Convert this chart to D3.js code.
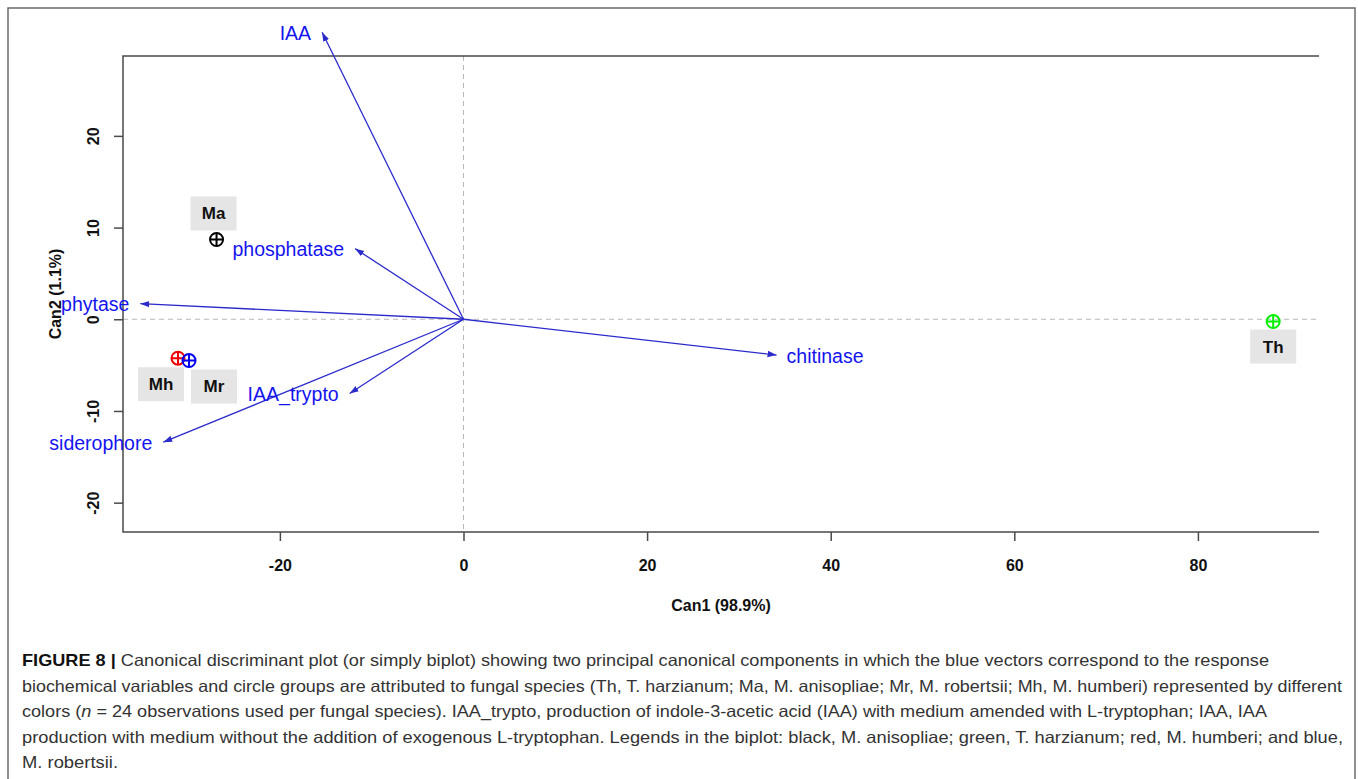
<!DOCTYPE html>
<html>
<head>
<meta charset="utf-8">
<script src="https://cdn.jsdelivr.net/npm/d3@7"></script>
<style>
  body { margin: 0; background: #fff; }
  svg { display: block; font-family: "Liberation Sans", Arial, sans-serif; }
</style>
</head>
<body>
<script>
// vectors (biochemical variables)
const varNames = ["IAA", "phosphatase", "phytase", "siderophore", "IAA_trypto", "chitinase"];
const varCan1 = [-15.4, -11.8, -35.2, -32.7, -12.4, 34.1];
const varCan2 = [31.3, 7.7, 1.7, -13.4, -8.1, -3.9];

// group centroids (fungal species)
const groupNames = ["Ma", "Mh", "Mr", "Th"];
const groupCan1 = [-26.9, -31.1, -29.9, 88.2];
const groupCan2 = [8.7, -4.25, -4.5, -0.25];
const groupColors = ["#000000", "#ee0000", "#0000ee", "#00ee00"];

const xTicks = [-20, 0, 20, 40, 60, 80];
const yTicks = [-20, -10, 0, 10, 20];

const xTitle = "Can1 (98.9%)";
const yTitle = "Can2 (1.1%)";

const captionLines = [
  "Canonical discriminant plot (or simply biplot) showing two principal canonical components in which the blue vectors correspond to the response",
  "biochemical variables and circle groups are attributed to fungal species (Th, T. harzianum; Ma, M. anisopliae; Mr, M. robertsii; Mh, M. humberi) represented by different",
  "colors (n = 24 observations used per fungal species). IAA_trypto, production of indole-3-acetic acid (IAA) with medium amended with L-tryptophan; IAA, IAA",
  "production with medium without the addition of exogenous L-tryptophan. Legends in the biplot: black, M. anisopliae; green, T. harzianum; red, M. humberi; and blue,",
  "M. robertsii."
];

const WIDTH = 1358;
const HEIGHT = 779;
const PLOT = { left: 123, right: 1319, top: 56, bottom: 532 };

// label box offsets from the point (px)
const boxOffset = { Ma: [-3, -26], Mh: [-17, 26], Mr: [25, 26], Th: [0, 25] };

const svg = d3.select("body").append("svg")
  .attr("width", WIDTH)
  .attr("height", HEIGHT);

// outer frame
svg.append("rect")
  .attr("x", 8).attr("y", 8)
  .attr("width", 1347).attr("height", 790)
  .attr("fill", "none")
  .attr("stroke", "#6a6a6a")
  .attr("stroke-width", 1.5);

const x = d3.scaleLinear().domain([-37.09, 93.19]).range([PLOT.left, PLOT.right]);
const y = d3.scaleLinear().domain([-23.2, 28.71]).range([PLOT.bottom, PLOT.top]);

// dashed zero lines
svg.append("line")
  .attr("x1", x(0)).attr("x2", x(0))
  .attr("y1", PLOT.top).attr("y2", PLOT.bottom)
  .attr("stroke", "#b8b8b8").attr("stroke-dasharray", "5,4");
svg.append("line")
  .attr("x1", PLOT.left).attr("x2", PLOT.right)
  .attr("y1", y(0)).attr("y2", y(0))
  .attr("stroke", "#b8b8b8").attr("stroke-dasharray", "5,4");

// box: left, top, bottom only
svg.append("path")
  .attr("d", `M${PLOT.right},${PLOT.top}H${PLOT.left}V${PLOT.bottom}H${PLOT.right}`)
  .attr("fill", "none")
  .attr("stroke", "#4a4a4a")
  .attr("stroke-width", 1.5);

// axes
const xAxis = svg.append("g")
  .attr("transform", `translate(0,${PLOT.bottom})`)
  .call(d3.axisBottom(x).tickValues(xTicks).tickSize(9).tickPadding(19).tickFormat(d => String(d)));
const yAxis = svg.append("g")
  .attr("transform", `translate(${PLOT.left},0)`)
  .call(d3.axisLeft(y).tickValues(yTicks).tickSize(9).tickFormat(d => String(d)));

[xAxis, yAxis].forEach(function(g) {
  g.select(".domain").remove();
  g.selectAll(".tick line").attr("stroke", "#4a4a4a").attr("stroke-width", 1.5);
  g.selectAll(".tick text")
    .attr("fill", "#111")
    .attr("font-family", "'Liberation Sans', Arial, sans-serif")
    .attr("font-size", "16px")
    .attr("font-weight", "bold");
});
yAxis.selectAll(".tick text")
  .attr("x", null).attr("dy", null)
  .attr("text-anchor", "middle")
  .attr("transform", "translate(-30,0) rotate(-90) translate(0,6)");

// axis titles
svg.append("text")
  .attr("x", (PLOT.left + PLOT.right) / 2)
  .attr("y", 611)
  .attr("text-anchor", "middle")
  .attr("font-size", "16px")
  .attr("font-weight", "bold")
  .attr("fill", "#111")
  .text(xTitle);
svg.append("text")
  .attr("transform", `translate(61,${(PLOT.top + PLOT.bottom) / 2}) rotate(-90)`)
  .attr("text-anchor", "middle")
  .attr("font-size", "16px")
  .attr("font-weight", "bold")
  .attr("fill", "#111")
  .text(yTitle);

// arrowhead
svg.append("defs").append("marker")
  .attr("id", "head")
  .attr("viewBox", "0 0 10 10")
  .attr("refX", 10).attr("refY", 5)
  .attr("markerWidth", 9).attr("markerHeight", 9)
  .attr("markerUnits", "userSpaceOnUse")
  .attr("orient", "auto")
  .append("path")
  .attr("d", "M0,1.5L10,5L0,8.5Z")
  .attr("fill", "#2b2bcc");

const vectors = varNames.map(function(name, i) {
  return { name: name, c1: varCan1[i], c2: varCan2[i] };
});

svg.append("g").selectAll("line")
  .data(vectors)
  .enter()
  .append("line")
  .attr("x1", x(0)).attr("y1", y(0))
  .attr("x2", d => x(d.c1)).attr("y2", d => y(d.c2))
  .attr("stroke", "#2b2bcc")
  .attr("stroke-width", 1.3)
  .attr("marker-end", "url(#head)");

svg.append("g").selectAll("text")
  .data(vectors)
  .enter()
  .append("text")
  .attr("x", d => d.c1 < 0 ? x(d.c1) - 11 : x(d.c1) + 10)
  .attr("y", d => y(d.c2) + 1)
  .attr("dy", "0.35em")
  .attr("text-anchor", d => d.c1 < 0 ? "end" : "start")
  .attr("font-size", "19.5px")
  .attr("fill", "#1414ee")
  .text(d => d.name);

// group centroids
const groups = groupNames.map(function(name, i) {
  return { name: name, c1: groupCan1[i], c2: groupCan2[i], color: groupColors[i] };
});

const pts = svg.append("g").selectAll("g")
  .data(groups)
  .enter()
  .append("g")
  .attr("transform", d => `translate(${x(d.c1)},${y(d.c2)})`);
pts.append("circle")
  .attr("r", 6.5)
  .attr("fill", "none")
  .attr("stroke", d => d.color)
  .attr("stroke-width", 2);
pts.append("path")
  .attr("d", "M-6.5,0H6.5M0,-6.5V6.5")
  .attr("stroke", d => d.color)
  .attr("stroke-width", 2);

// group labels with grey boxes
const labs = svg.append("g").selectAll("g")
  .data(groups)
  .enter()
  .append("g")
  .attr("transform", d => `translate(${x(d.c1) + boxOffset[d.name][0]},${y(d.c2) + boxOffset[d.name][1]})`);
labs.append("rect")
  .attr("x", -23).attr("y", -17)
  .attr("width", 46).attr("height", 34)
  .attr("fill", "#e5e5e5");
labs.append("text")
  .attr("text-anchor", "middle")
  .attr("dy", "0.35em")
  .attr("font-size", "17px")
  .attr("font-weight", "bold")
  .attr("fill", "#111")
  .text(d => d.name);

// caption
const capWidths = [1247, 1320, 1245, 1321, 96];
const cap = svg.append("g").attr("font-family", "'Liberation Sans', Arial, sans-serif")
  .attr("font-size", "16.5px")
  .attr("fill", "#333");
captionLines.forEach(function(line, i) {
  const t = cap.append("text")
    .attr("x", 22)
    .attr("y", 666 + i * 25.5);
  if (i === 0) {
    t.append("tspan").attr("font-weight", "bold").attr("fill", "#111").text("FIGURE 8 | ");
    t.append("tspan").text(line);
  } else if (i === 2) {
    t.append("tspan").text("colors (");
    t.append("tspan").attr("font-style", "italic").text("n");
    t.append("tspan").text(line.slice(9));
  } else {
    t.text(line);
  }
  t.attr("textLength", capWidths[i]).attr("lengthAdjust", "spacingAndGlyphs");
});
</script>
</body>
</html>
